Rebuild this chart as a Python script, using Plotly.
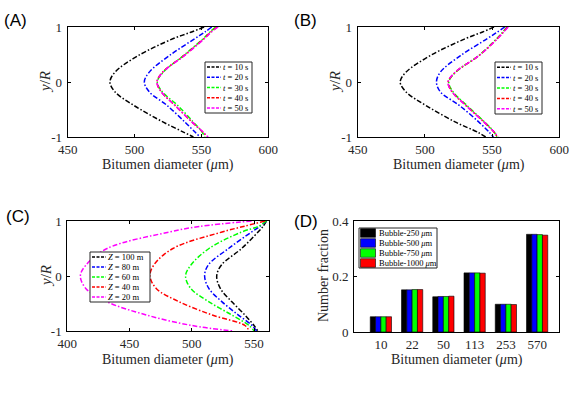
import plotly.graph_objects as go
from plotly.subplots import make_subplots

W, H = 581, 397

# ---- data ----
y_ab = [1, 0.91, 0.79, 0.48, 0.18, 0, -0.18, -0.42, -0.73, -0.91, -1]
t_labels = ["10", "20", "30", "40", "50"]
a_curves = [
    [552, 542.7, 529, 502.8, 485.4, 481.6, 485.4, 499.1, 521.5, 536.5, 544],
    [557.7, 552.7, 545.2, 526, 511, 507.3, 511, 524, 537.7, 545.2, 549],
    [560.5, 556.4, 551.4, 536.5, 521.5, 517, 520.8, 532, 544, 550.5, 552.5],
    [562, 557, 552, 537, 521, 516.8, 520, 530, 543, 551, 554.5],
    [562.5, 557.5, 552.3, 537.3, 521.2, 516.8, 520, 530, 543, 551.2, 555],
]
b_curves = [
    [551.4, 543, 530.3, 504, 486, 481.6, 486, 500.3, 522.8, 539, 545.2],
    [559.4, 554, 546.5, 526.5, 511.5, 508.6, 511.5, 525.3, 540.2, 547.7, 551],
    [561, 558, 553.5, 540, 523, 517.8, 521, 531, 544.5, 551.5, 553.5],
    [561.5, 558.4, 554, 540.2, 522.8, 517.3, 520.3, 530.3, 544, 551.4, 554],
    [562, 558.6, 554.2, 540.2, 522.6, 517.2, 520.2, 530.1, 544, 551.6, 554.5],
]

y_c = [1, 0.9, 0.8, 0.5, 0.2, 0, -0.23, -0.47, -0.71, -0.9, -1]
z_labels = ["100", "80", "60", "40", "20"]
c_curves = [
    [560, 557.2, 553.2, 540, 523.8, 520, 523, 532.2, 542.7, 550, 553],
    [560, 554.5, 548, 529.5, 513.2, 510.3, 513.8, 524.3, 537.4, 548.5, 552],
    [560, 553.2, 540, 513.8, 499.3, 495, 499.3, 513.8, 532.2, 546, 550],
    [559, 541.4, 524.3, 484.8, 469.5, 466.4, 471.6, 490, 516.4, 542.7, 546],
    [548, 506, 482, 432, 415, 410.5, 415, 432, 463.7, 500, 533.5],
]

diam_cats = ["10", "22", "50", "113", "253", "570"]
bubble_labels = ["250", "500", "750", "1000"]
fractions = [
    [0.055, 0.152, 0.127, 0.213, 0.100, 0.352],
    [0.055, 0.152, 0.128, 0.213, 0.100, 0.352],
    [0.055, 0.153, 0.128, 0.213, 0.100, 0.351],
    [0.055, 0.153, 0.129, 0.212, 0.099, 0.349],
]

line_colors = ["#000000", "#0000ff", "#00ff00", "#ff0000", "#ff00ff"]
bar_colors = ["#000000", "#0000ff", "#00ff00", "#ff0000"]
DASH = "5px,2px,1.5px,2px"
SERIF = "Liberation Serif, Times New Roman, serif"
LW = 1.5

fig = make_subplots(rows=2, cols=2)

for i in range(5):
    for curves, ys, r, c in [(a_curves, y_ab, 1, 1), (b_curves, y_ab, 1, 2), (c_curves, y_c, 2, 1)]:
        fig.add_trace(go.Scatter(x=curves[i], y=ys, mode="lines", line_shape="spline",
                                 line=dict(color=line_colors[i], width=LW, dash=DASH),
                                 showlegend=False), row=r, col=c)

for i in range(4):
    fig.add_trace(go.Bar(x=diam_cats, y=fractions[i], marker_color=bar_colors[i],
                         marker_line=dict(color="black", width=0.6),
                         showlegend=False), row=2, col=2)


def px_x(p):
    return p / W


def px_y(p):
    return 1 - p / H


# axis boxes in pixels
boxes = {1: (67.7, 268.3, 27, 137), 2: (357.7, 559.3, 27, 137),
         3: (67.3, 269, 221, 331), 4: (354, 559, 221, 332)}
axis_common = dict(showline=True, linecolor="black", linewidth=1, mirror="ticks",
                   ticks="inside", ticklen=3, tickcolor="black", showgrid=False,
                   zeroline=False, automargin=False,
                   tickfont=dict(family=SERIF, size=13, color="#262626"))
for k, (x0, x1, y0, y1) in boxes.items():
    sfx = "" if k == 1 else str(k)
    fig.layout["xaxis" + sfx].update(domain=[px_x(x0), px_x(x1)], ticklabelstandoff=0, **axis_common)
    fig.layout["yaxis" + sfx].update(domain=[px_y(y1), px_y(y0)], ticklabelstandoff=2, **axis_common)

for ax in ["xaxis", "xaxis2"]:
    fig.layout[ax].update(range=[450, 600], tickvals=[450, 500, 550, 600])
fig.layout["xaxis3"].update(range=[400, 562], tickvals=[400, 450, 500, 550])
for ax in ["yaxis", "yaxis2", "yaxis3"]:
    fig.layout[ax].update(range=[-1, 1], tickvals=[-1, 0, 1], ticktext=["-1", "0", "1"])
fig.layout["xaxis4"].update(range=[-0.86, 5.7], ticks="")
fig.layout["yaxis4"].update(range=[0, 0.4], tickvals=[0, 0.2, 0.4], ticktext=["0", "0.2", "0.4"])

shapes, annots = [], []

# axis titles placed as text so they sit where the original puts them
xtitle = "Bitumen diameter (<i>μ</i>m)"
for cx, cy in [(168, 165), (458.5, 165), (168, 360), (456.5, 360)]:
    annots.append(dict(text=xtitle, x=px_x(cx), y=px_y(cy), xref="paper", yref="paper",
                       xanchor="center", yanchor="middle", showarrow=False,
                       font=dict(family=SERIF, size=14, color="#262626")))
for cx, cy in [(45, 82), (335, 82), (46, 276)]:
    annots.append(dict(text="<i>y</i>/<i>R</i>", x=px_x(cx), y=px_y(cy), xref="paper", yref="paper",
                       xanchor="center", yanchor="middle", showarrow=False, textangle=-90,
                       font=dict(family=SERIF, size=15, color="#262626")))
annots.append(dict(text="Number fraction", x=px_x(323), y=px_y(276), xref="paper", yref="paper",
                   xanchor="center", yanchor="middle", showarrow=False, textangle=-90,
                   font=dict(family=SERIF, size=14, color="#262626")))

# panel letters
for lab, x, y in [("(A)", 2, 20), ("(B)", 292, 20), ("(C)", 4, 216), ("(D)", 292, 221)]:
    annots.append(dict(text=lab, x=px_x(x), y=px_y(y), xref="paper", yref="paper",
                       xanchor="left", yanchor="middle", showarrow=False,
                       font=dict(family="Liberation Sans", size=17, color="black")))


def line_legend(x0, x1, y0, y1, labels, sym, unit):
    shapes.append(dict(type="rect", xref="paper", yref="paper", x0=px_x(x0), x1=px_x(x1),
                       y0=px_y(y1), y1=px_y(y0), line=dict(color="#262626", width=1),
                       fillcolor="white", layer="above"))
    rh = (y1 - y0) / len(labels)
    for i, lab in enumerate(labels):
        yc = y0 + rh * (i + 0.5)
        shapes.append(dict(type="line", xref="paper", yref="paper", x0=px_x(x0 + 2), x1=px_x(x0 + 16),
                           y0=px_y(yc), y1=px_y(yc), layer="above",
                           line=dict(color=line_colors[i], width=LW, dash="3px,1.5px")))
        annots.append(dict(text="<i>%s</i> = %s %s" % (sym, lab, unit), x=px_x(x0 + 16), y=px_y(yc),
                           xref="paper", yref="paper", xanchor="left", yanchor="middle",
                           showarrow=False, font=dict(family=SERIF, size=8.5, color="black")))


line_legend(205, 252, 62, 113, t_labels, "t", "s")
line_legend(495, 542, 62, 114, t_labels, "t", "s")
line_legend(90, 150, 252, 302, z_labels, "Z", "m")

# bar legend
bx0, bx1, by0, by1 = 359, 437, 228, 268
shapes.append(dict(type="rect", xref="paper", yref="paper", x0=px_x(bx0), x1=px_x(bx1),
                   y0=px_y(by1), y1=px_y(by0), line=dict(color="#262626", width=1),
                   fillcolor="white", layer="above"))
rh = (by1 - by0) / len(bubble_labels)
for i, lab in enumerate(bubble_labels):
    yc = by0 + rh * (i + 0.5)
    shapes.append(dict(type="rect", xref="paper", yref="paper", x0=px_x(bx0 + 1.5), x1=px_x(bx0 + 16.5),
                       y0=px_y(yc + 4.3), y1=px_y(yc - 4.3), fillcolor=bar_colors[i],
                       line=dict(color="black", width=0.6), layer="above"))
    annots.append(dict(text="Bubble-%s <i>μ</i>m" % lab, x=px_x(bx0 + 18), y=px_y(yc),
                       xref="paper", yref="paper", xanchor="left", yanchor="middle",
                       showarrow=False, font=dict(family=SERIF, size=8.5, color="black")))

fig.update_layout(width=W, height=H, margin=dict(l=0, r=0, t=0, b=0, autoexpand=False),
                  font=dict(family=SERIF),
                  plot_bgcolor="white", paper_bgcolor="white",
                  barmode="group", bargap=0.32, bargroupgap=0,
                  shapes=shapes, annotations=annots)

# the page body has a default 8px margin; drop it so the figure fills the window
fig.write_html("out.html", config={"displayModeBar": False},
               post_script="document.body.style.margin='0';")
